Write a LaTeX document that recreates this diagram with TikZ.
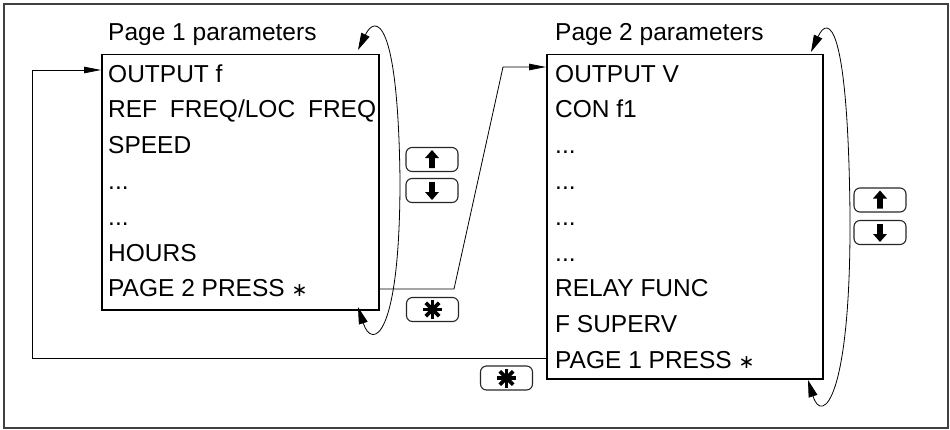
\documentclass[tikz,border=0pt]{standalone}
\usepackage{fontspec}
\setmainfont{Liberation Sans}
\newfontfamily\symfnt{DejaVu Sans}
\usetikzlibrary{arrows.meta}
\tikzset{
  lbl/.style={anchor=base west, inner sep=0pt, font=\fontsize{24.5}{29}\selectfont},
  listbox/.style={draw, line width=1.5pt, anchor=north west, inner sep=0pt},
  btn/.style={draw=black!85, line width=1.1pt, rounded corners=6pt, minimum width=52pt, minimum height=24pt, inner sep=0pt},
  conn/.style={line width=0.8pt},
  looparrow/.style={line width=0.8pt, {Triangle[length=17pt,width=9pt]}-{Triangle[length=17pt,width=9pt]}},
  tip/.style={-{Triangle[length=17pt,width=6.5pt]}},
  uparrowglyph/.pic={\fill (0,-9.5) -- (7,-1.5) -- (2.8,-1.5) -- (2.8,8.5) -- (-2.8,8.5) -- (-2.8,-1.5) -- (-7,-1.5) -- cycle;},
  downarrowglyph/.pic={\fill (0,9.5) -- (7,1.5) -- (2.8,1.5) -- (2.8,-8.5) -- (-2.8,-8.5) -- (-2.8,1.5) -- (-7,1.5) -- cycle;},
  starglyph/.pic={\foreach \a in {0,45,90,135} \draw[line width=3.8pt] (\a:9.5) -- (\a+180:9.5);}
}
\newcommand{\smallast}{{\symfnt\fontsize{19}{20}\selectfont ∗}}
\begin{document}
\begin{tikzpicture}[x=1pt, y=-1pt]
\useasboundingbox (0,0) rectangle (950,429);
\draw[black!75, line width=1.6pt] (4,4) rectangle (948,428);

% list boxes
\node[listbox, minimum width=277pt, minimum height=255.5pt] (box1) at (101,53.5) {};
\node[listbox, minimum width=276pt, minimum height=324.5pt] (box2) at (546,53.5) {};

% titles
\node[lbl] (t1) at (108,40) {Page 1 parameters};
\node[lbl] (t2) at (555,40) {Page 2 parameters};

% page 1 items
\node[lbl] (a1) at (108,82) {OUTPUT f};
\node[lbl] (a2) at (108,117.8) {REF\hspace{6pt} FREQ/LOC\hspace{6pt} FREQ};
\node[lbl] (a3) at (108,153.6) {SPEED};
\node[lbl] (a4) at (108,189.4) {...};
\node[lbl] (a5) at (108,225.2) {...};
\node[lbl] (a6) at (108,261) {HOURS};
\node[lbl] (a7) at (108,296.8) {PAGE 2 PRESS \smallast};

% page 2 items
\node[lbl] (b1) at (555,82) {OUTPUT V};
\node[lbl] (b2) at (555,117.8) {CON f1};
\node[lbl] (b3) at (555,153.6) {...};
\node[lbl] (b4) at (555,189.4) {...};
\node[lbl] (b5) at (555,225.2) {...};
\node[lbl] (b6) at (555,261) {...};
\node[lbl] (b7) at (555,296.8) {RELAY FUNC};
\node[lbl] (b8) at (555,332.6) {F SUPERV};
\node[lbl] (b9) at (555,368.4) {PAGE 1 PRESS \smallast};

% buttons
\node[btn] (up1) at (432,159.5) {};
\node[btn] (dn1) at (432,190.5) {};
\node[btn] (st1) at (432.5,309.5) {};
\node[btn] (up2) at (880,200) {};
\node[btn] (dn2) at (880,232.5) {};
\node[btn] (st2) at (506.5,378) {};
\pic at (up1.center) {uparrowglyph};
\pic at (dn1.center) {downarrowglyph};
\pic at (up2.center) {uparrowglyph};
\pic at (dn2.center) {downarrowglyph};
\pic at (st1.center) {starglyph};
\pic at (st2.center) {starglyph};

% connector page1 -> page2
\coordinate (k1) at (454,289);
\coordinate (k2) at (503,67);
\draw[conn, tip] (box1.east |- k1) -- (k1) -- (k2) -- (box2.west |- k2);

% connector page2 -> page1
\coordinate (m1) at (32.3,358.3);
\coordinate (m2) at (32.3,70);
\draw[conn, tip] (box2.west |- m1) -- (m1) -- (m2) -- (box1.west |- m2);

% loops
\coordinate (l1a) at (358,50);
\coordinate (l1b) at (358,307);
\draw[looparrow] (l1a) .. controls (375,15) and (398,15) .. (400,180)
  .. controls (400,340) and (372,350) .. (l1b);
\coordinate (l2a) at (811,52);
\coordinate (l2b) at (808,380);
\draw[looparrow] (l2a) .. controls (828,15) and (848,20) .. (850,215)
  .. controls (851,400) and (822,425) .. (l2b);
\end{tikzpicture}
\end{document}
